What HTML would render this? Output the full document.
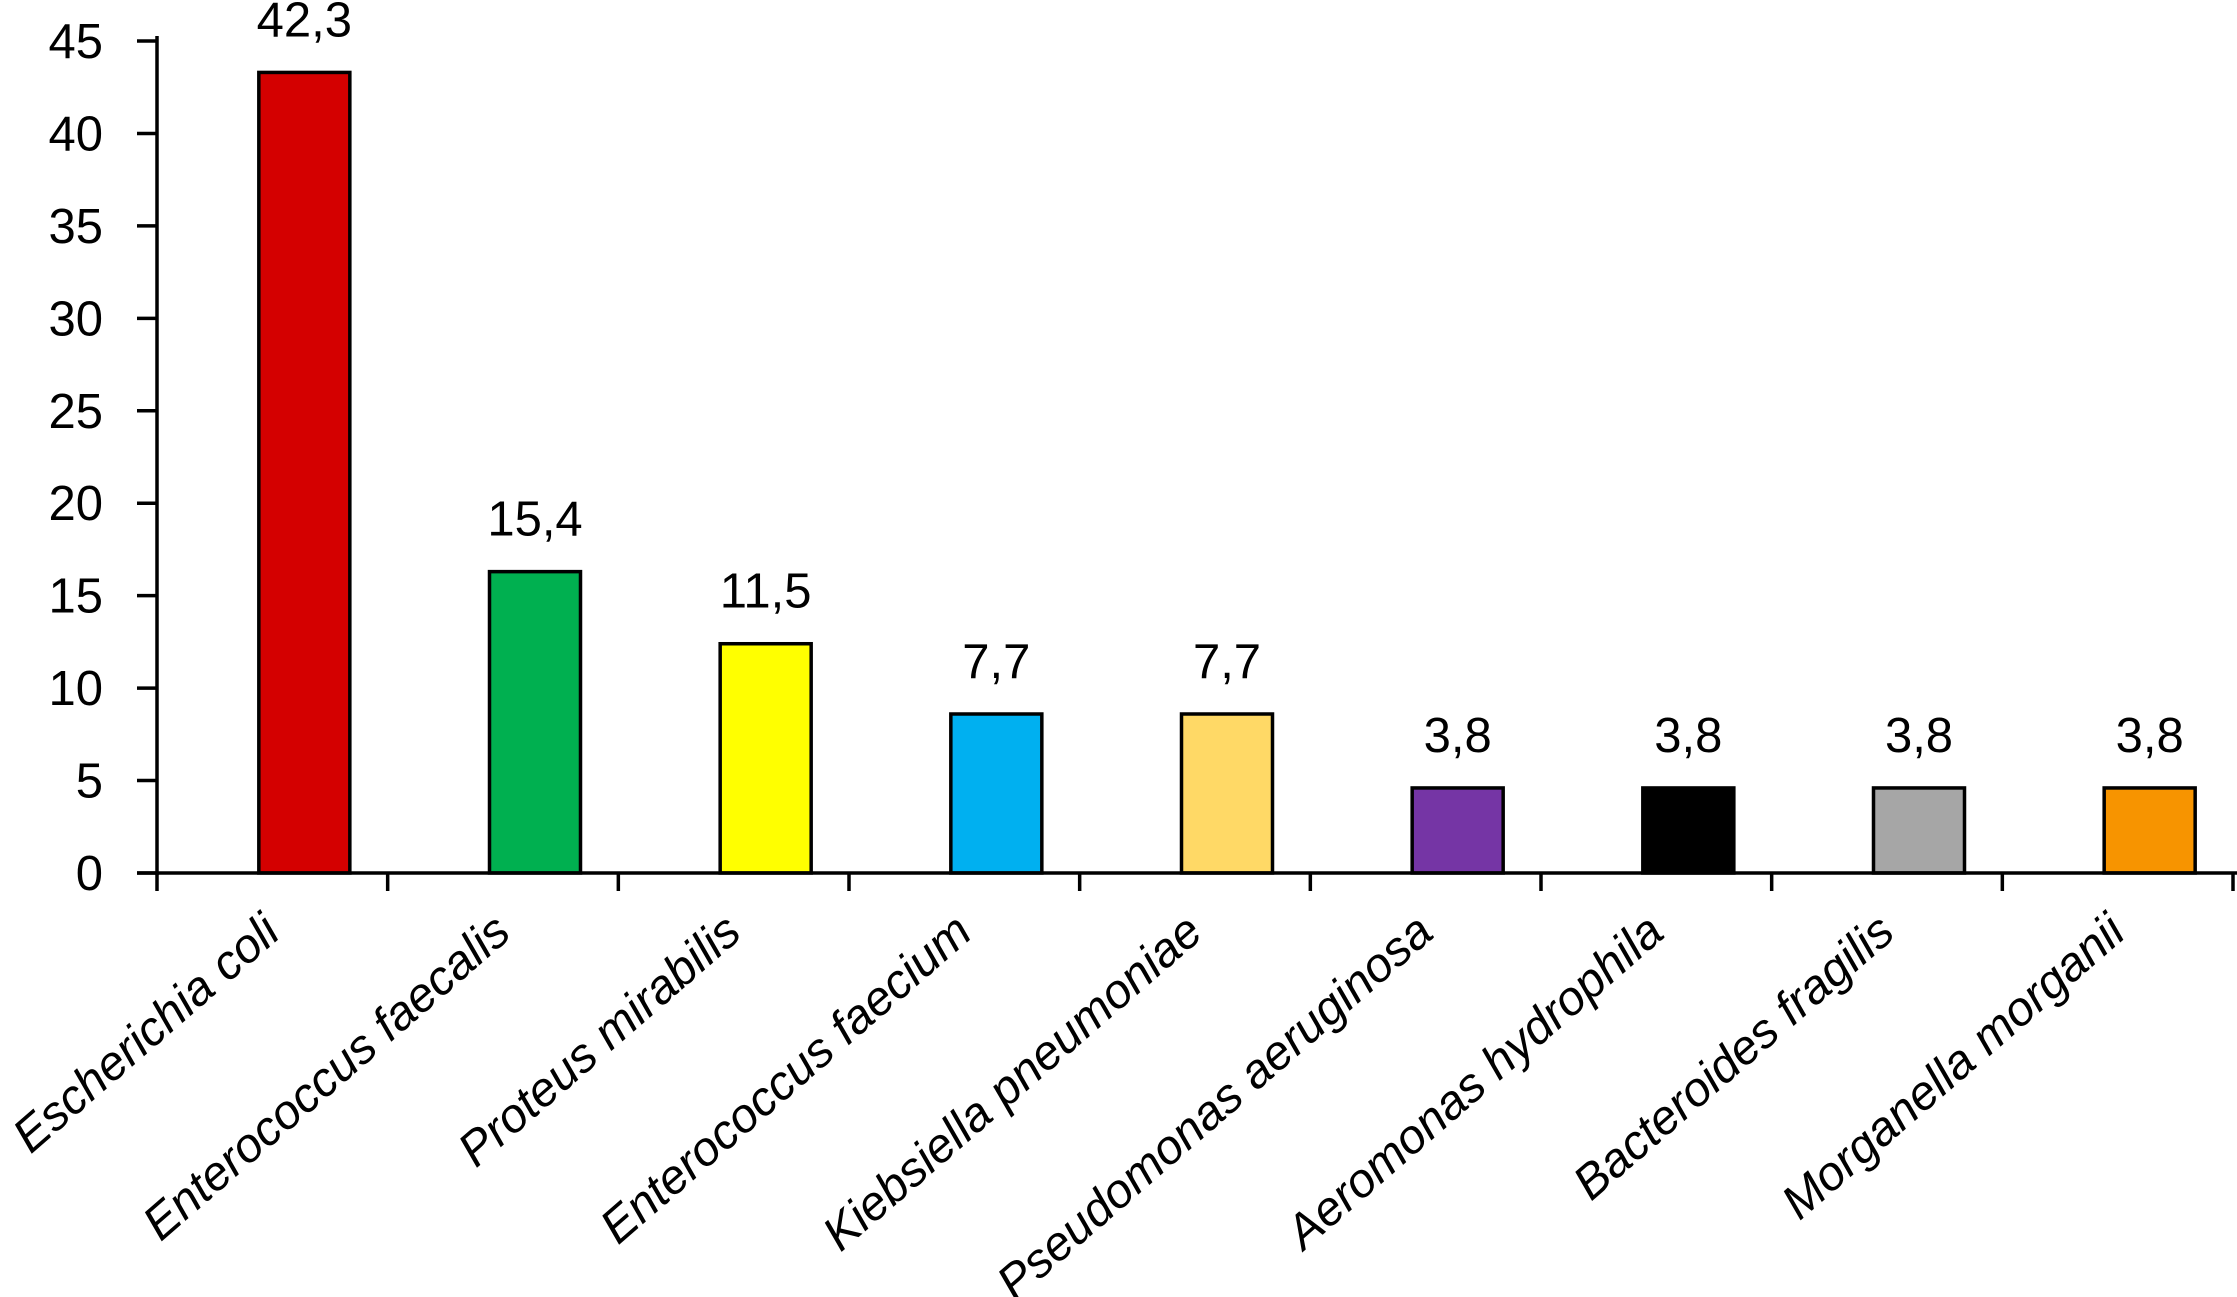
<!DOCTYPE html>
<html><head><meta charset="utf-8"><style>
html,body{margin:0;padding:0;background:#fff;}
svg{display:block;font-family:"Liberation Sans",Arial,sans-serif;}
</style></head><body>
<svg id="chart" width="2237" height="1297" viewBox="0 0 2237 1297" xmlns="http://www.w3.org/2000/svg"></svg>
<script>
const categories = ["Escherichia coli","Enterococcus faecalis","Proteus mirabilis","Enterococcus faecium","Kiebsiella pneumoniae","Pseudomonas aeruginosa","Aeromonas hydrophila","Bacteroides fragilis","Morganella morganii"];
const barValues = [43.3,16.3,12.4,8.6,8.6,4.6,4.6,4.6,4.6];
const valueLabels = ["42,3","15,4","11,5","7,7","7,7","3,8","3,8","3,8","3,8"];
const barColors = ["#d40000","#00b050","#ffff00","#00b0f0","#ffd966","#7535a5","#000000","#a6a6a6","#f79400"];
const yTicks = [0,5,10,15,20,25,30,35,40,45];

const NS="http://www.w3.org/2000/svg";
const svg=document.getElementById('chart');
const x0=157,x1=2233,y0=873,yTop=41,yMax=45;
const bw=(x1-x0)/categories.length;
function yS(v){return y0-(v/yMax)*(y0-yTop);}
function xC(i){return x0+bw*(i+0.5);}
function mk(tag,attrs,parent){const e=document.createElementNS(NS,tag);for(const k in attrs)e.setAttribute(k,attrs[k]);(parent||svg).appendChild(e);return e;}

const ya=mk('line',{x1:x0,y1:yTop-5,x2:x0,y2:y0+2,stroke:'#000','stroke-width':3.5});


yTicks.forEach(t=>{
  const y=yS(t);
  const tk=mk('line',{x1:x0-20,y1:y,x2:x0,y2:y,stroke:'#000','stroke-width':3.5});
  
  
  const tx=mk('text',{x:103,y:y+17,'text-anchor':'end','font-size':49,fill:'#000'});
  tx.textContent=t;
  
  
});

categories.forEach((c,i)=>{
  const cx=xC(i)+32, w=91, top=yS(barValues[i]);
  const r=mk('rect',{x:cx-w/2,y:top,width:w,height:y0-top,fill:barColors[i],stroke:'#000','stroke-width':3.5});
  
  
  const vl=mk('text',{x:cx,y:top-36,'text-anchor':'middle','font-size':49,fill:'#000'});
  vl.textContent=valueLabels[i];
  
  
  const ax=xC(i)+10, ay=936;
  const cl=mk('text',{x:ax,y:ay,'text-anchor':'end','font-size':48,'font-style':'italic',fill:'#000',transform:'rotate(-41 '+ax+' '+ay+')'});
  cl.textContent=c;
  
  
});

const xa=mk('line',{x1:x0-20,y1:y0,x2:x1+4,y2:y0,stroke:'#000','stroke-width':3.5});


for(let i=0;i<=categories.length;i++){
  const x=x0+bw*i;
  const tk=mk('line',{x1:x,y1:y0,x2:x,y2:y0+18,stroke:'#000','stroke-width':3.5});
  
  
}
</script>
</body></html>
